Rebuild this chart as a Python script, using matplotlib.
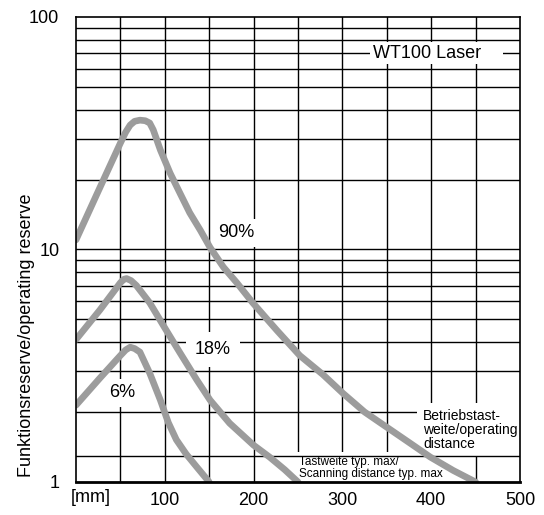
import matplotlib.pyplot as plt
from matplotlib.ticker import FixedLocator, NullLocator

plt.rcParams['font.family'] = ['Liberation Sans', 'DejaVu Sans']

# operating distance [mm] and operating reserve
dist_90 = [0, 25, 50, 56, 61, 66, 72, 78, 83, 87, 95, 106, 117, 128, 140, 151, 166, 181,
           199, 226, 252, 278, 301, 325, 350, 375, 399, 425, 450]
res_90 = [11, 17.8, 28.7, 32.0, 34.3, 35.6, 36, 35.8, 35, 32.7, 26.8, 21.3, 17.5, 14.4, 12.1,
          10.2, 8.4, 7.2, 5.9, 4.5, 3.5, 2.9, 2.4, 2.0, 1.72, 1.48, 1.28, 1.12, 1.0]

dist_18 = [0, 27, 50, 54, 57, 62, 68, 83, 100, 117, 136, 151, 173, 200, 218, 235, 250]
res_18 = [4.1, 5.5, 7.2, 7.45, 7.5, 7.35, 7.0, 5.9, 4.6, 3.6, 2.75, 2.25, 1.79, 1.44, 1.28, 1.13, 1.0]

dist_6 = [0, 27, 50, 56, 61, 66, 72, 83, 95, 104, 113, 124, 136, 150]
res_6 = [2.14, 2.8, 3.5, 3.7, 3.8, 3.75, 3.62, 2.94, 2.25, 1.8, 1.52, 1.32, 1.16, 1.0]

x_ticks = [100, 200, 300, 400, 500]
y_ticks = [1, 10, 100]
y_tick_labels = ['1', '10', '100']
scan_max = 1.3  # Tastweite typ. max line

fig = plt.figure(figsize=(5.44, 5.15), dpi=100)
ax = fig.add_axes([76 / 544, 33 / 515, 444 / 544, 465 / 515])
ax.set_yscale('log')
ax.set_xlim(0, 500)
ax.set_ylim(1, 100)

# grid
for x in range(50, 500, 50):
    ax.axvline(x, color='black', lw=1.0, zorder=1)
for dec in (1, 10):
    for m in range(2, 10):
        ax.axhline(m * dec, color='black', lw=1.0, zorder=1)
ax.axhline(10, color='black', lw=1.0, zorder=1)
ax.axhline(scan_max, color='black', lw=1.0, zorder=2.8)

gray = '#9c9c9c'
for d, r in [(dist_90, res_90), (dist_18, res_18), (dist_6, res_6)]:
    ax.plot(d, r, color=gray, lw=4.8, solid_capstyle='round',
            solid_joinstyle='round', zorder=3)

box = dict(boxstyle='square,pad=0.15', fc='white', ec='none')
ax.text(334, 70, 'WT100 Laser    ', fontsize=13, ha='left', va='center', bbox=box, zorder=2.5)
ax.text(181, 11.8, '90%', fontsize=13, ha='center', va='center',
        bbox=dict(boxstyle='square,pad=0.3', fc='white', ec='none'), zorder=2.5)
ax.text(154, 3.7, '18%', fontsize=13, ha='center', va='center',
        bbox=dict(boxstyle='square,pad=0.5', fc='white', ec='none'), zorder=2.5)
ax.text(52, 2.42, '6%', fontsize=13, ha='center', va='center',
        bbox=dict(boxstyle='square,pad=0.3', fc='white', ec='none'), zorder=2.5)
ax.text(391, 1.67, 'Betriebstast-\nweite/operating\ndistance', fontsize=10,
        ha='left', va='center', linespacing=1.0,
        bbox=dict(boxstyle='square,pad=0.45', fc='white', ec='none'), zorder=2.5)
ax.text(251, 1.15, 'Tastweite typ. max/\nScanning distance typ. max', fontsize=8.5,
        ha='left', va='center', linespacing=1.0,
        bbox=dict(boxstyle='square,pad=0.3', fc='white', ec='none'), zorder=2.5)

ax.xaxis.set_major_locator(FixedLocator(x_ticks))
ax.yaxis.set_major_locator(FixedLocator(y_ticks))
ax.yaxis.set_minor_locator(NullLocator())
ax.set_yticklabels(y_tick_labels)
ax.tick_params(length=0, labelsize=13)
ax.tick_params(axis='y', pad=12)
ax.tick_params(axis='x', pad=7)

for side in ['top', 'left', 'right']:
    ax.spines[side].set_linewidth(1.2)
ax.spines['bottom'].set_linewidth(2.0)
for s in ax.spines.values():
    s.set_zorder(5)

fig.text(91 / 544, 1 - 498 / 515, '[mm]', fontsize=13, ha='center', va='center')
fig.text(27 / 544, 1 - 335 / 515, 'Funktionsreserve/operating reserve', fontsize=13,
         rotation=90, ha='center', va='center')

fig.savefig('out.png', dpi=100)
